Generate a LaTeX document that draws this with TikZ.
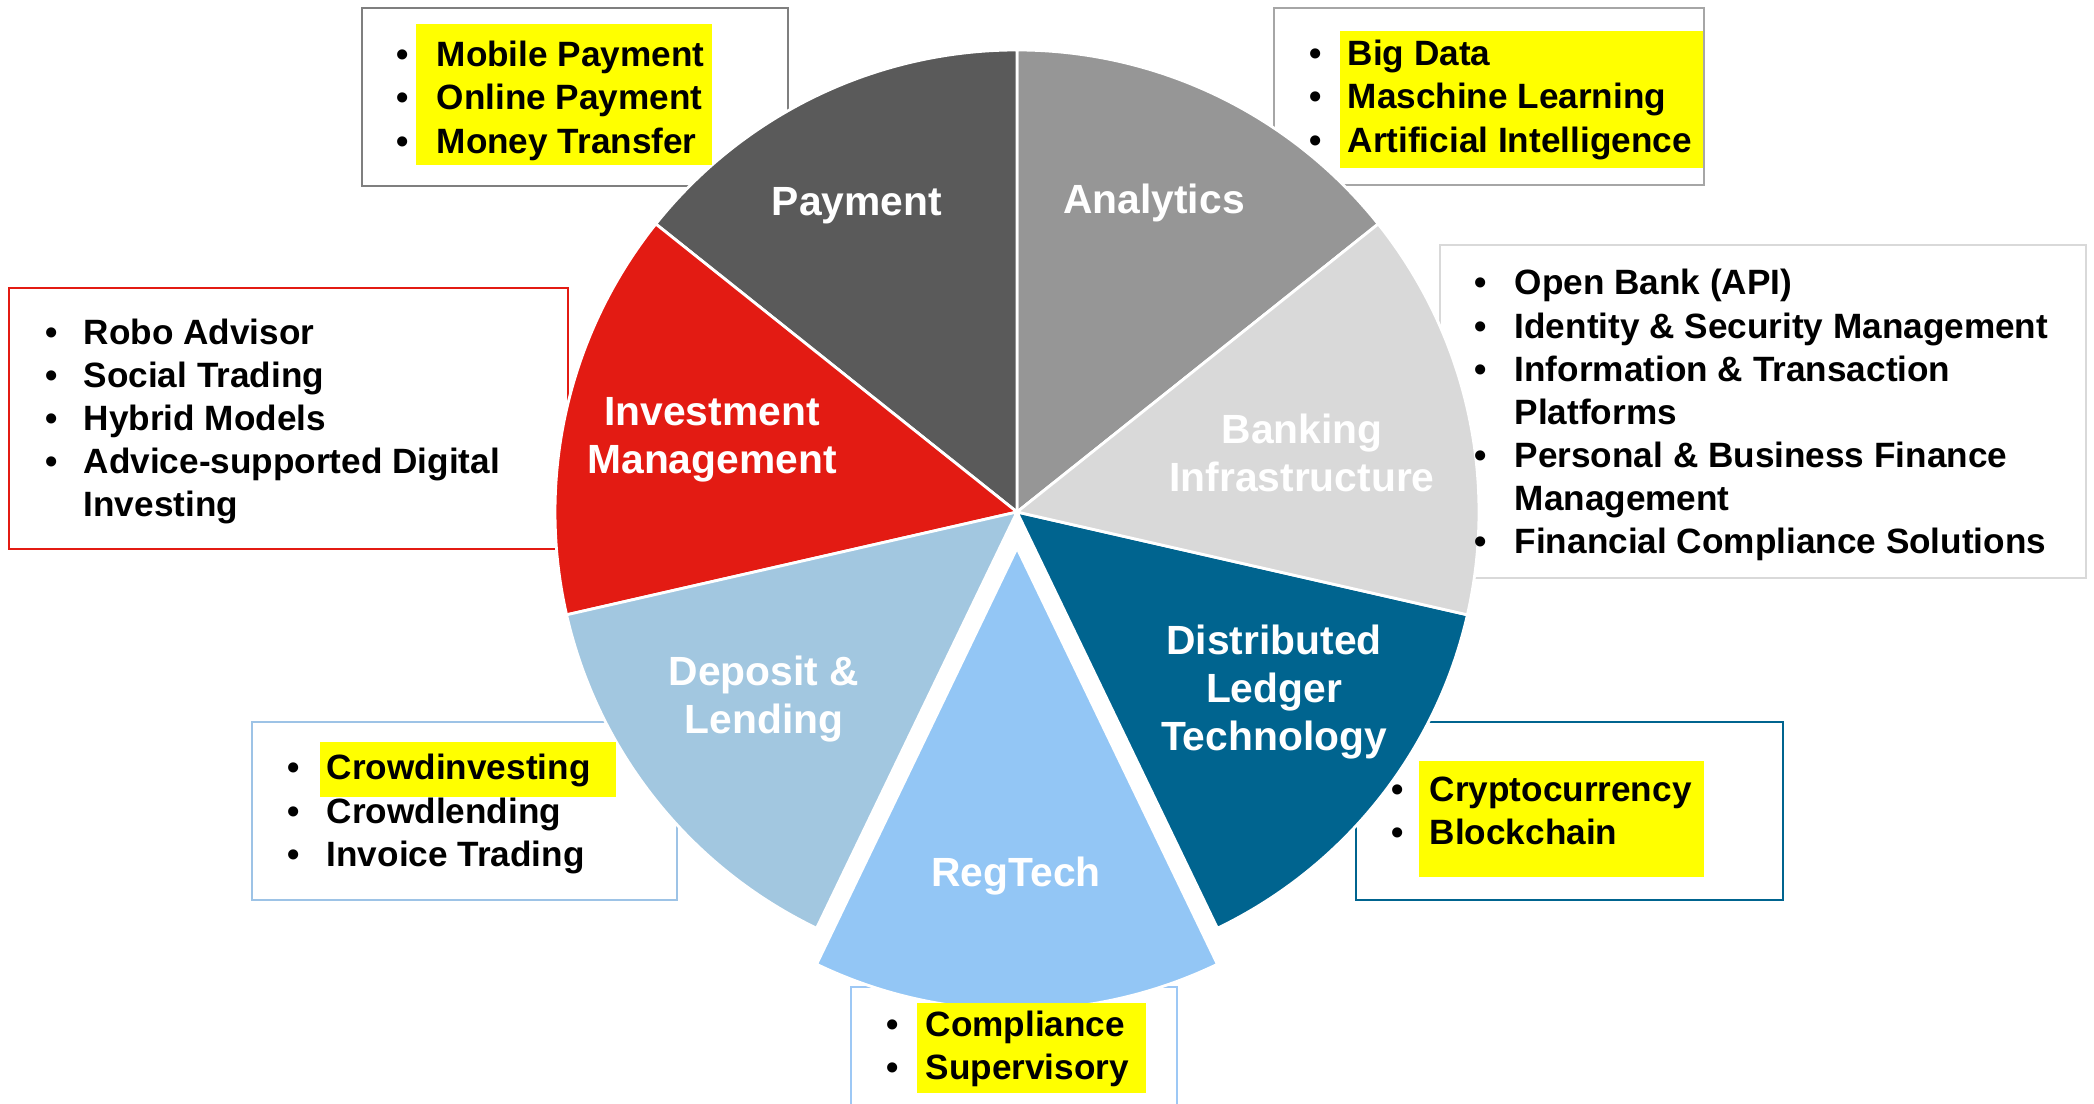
\documentclass[tikz,border=0pt]{standalone}
\usepackage{fontspec}
\setmainfont{Liberation Sans}
\definecolor{payC}{HTML}{5A5A5A}
\definecolor{anaC}{HTML}{969696}
\definecolor{bnkC}{HTML}{D9D9D9}
\definecolor{dltC}{HTML}{00648F}
\definecolor{regC}{HTML}{93C6F5}
\definecolor{depC}{HTML}{A2C7E0}
\definecolor{invC}{HTML}{E31B13}
\definecolor{payB}{HTML}{7F7F7F}
\definecolor{anaB}{HTML}{A6A6A6}
\definecolor{depB}{HTML}{9DC3E6}
\definecolor{regB}{HTML}{9DC8F5}
\definecolor{hiC}{HTML}{FFFF00}
\tikzset{
  item/.style={font=\fontsize{10}{12}\selectfont\bfseries, anchor=base west, inner sep=0pt},
  dot/.style={font=\fontsize{10}{12}\selectfont\bfseries, anchor=base, inner sep=0pt},
  lbl/.style={font=\fontsize{11.6}{13.7}\selectfont\bfseries, text=white, align=center, inner sep=0pt},
  frame/.style={line width=0.6pt},
  hilite/.style={fill=hiC},
  slice/.style={draw=white, line width=0.8pt}
}
\begin{document}
\begin{tikzpicture}[x=0.01cm,y=-0.01cm]
\useasboundingbox (0,0) rectangle (2094,1104);
\clip (0,0) rectangle (2094,1104);
% frames of the lists
\draw[frame, draw=payB] (362,8) rectangle (788,186);
\draw[frame, draw=anaB] (1274,8) rectangle (1704,185);
\draw[frame, draw=bnkC] (1440,245) rectangle (2086,578);
\draw[frame, draw=invC] (9,288) rectangle (568,549);
\draw[frame, draw=depB] (252,722) rectangle (677,900);
\draw[frame, draw=dltC] (1356,722) rectangle (1783,900);
\draw[frame, draw=regB] (851,987) rectangle (1177,1130);
% pie
\begin{scope}[shift={(1017,512)}, y=0.01cm]
  \filldraw[slice, fill=anaC] (0,0) -- (38.57:462) arc[start angle=38.57, end angle=90, radius=462] -- cycle;
  \filldraw[slice, fill=payC] (0,0) -- (90:462) arc[start angle=90, end angle=141.43, radius=462] -- cycle;
  \filldraw[slice, fill=invC] (0,0) -- (141.43:462) arc[start angle=141.43, end angle=192.86, radius=462] -- cycle;
  \filldraw[slice, fill=depC] (0,0) -- (192.86:462) arc[start angle=192.86, end angle=244.29, radius=462] -- cycle;
  \filldraw[slice, fill=dltC] (0,0) -- (295.71:462) arc[start angle=295.71, end angle=347.14, radius=462] -- cycle;
  \filldraw[slice, fill=bnkC] (0,0) -- (-12.86:462) arc[start angle=-12.86, end angle=38.57, radius=462] -- cycle;
  \filldraw[slice, fill=regC] (0,-36) -- ++(244.29:462) arc[start angle=244.29, end angle=295.71, radius=462] -- cycle;
\end{scope}
% slice labels
\node[lbl] (payment) at (857,206) {Payment};
\node[lbl] (analytics) at (1154,203) {Analytics};
\node[lbl] (banking) at (1302,453) {Banking\\Infrastructure};
\node[lbl] (invest) at (712,440) {Investment\\Management};
\node[lbl] (deposit) at (764,699) {Deposit \&\\Lending};
\node[lbl] (dlt) at (1274,692) {Distributed\\Ledger\\Technology};
\node[lbl] (regtech) at (1016,876) {RegTech};
% highlights
\fill[hilite] (416,24) rectangle (712,165);
\fill[hilite] (1340,31) rectangle (1703,168);
\fill[hilite] (320,742) rectangle (616,797);
\fill[hilite] (1419,761) rectangle (1704,877);
\fill[hilite] (917,1003) rectangle (1146,1093);
% lists
\foreach \t [count=\i] in {Mobile Payment, Online Payment, Money Transfer}{
  \node[dot] (payb\i) at (403,{66.7+43.3*(\i-1)}) {•};
  \node[item] (pay\i) at (436,{66.7+43.3*(\i-1)}) {\t};
}
\foreach \t [count=\i] in {Big Data, Maschine Learning, Artificial Intelligence}{
  \node[dot] (anab\i) at (1316,{65.7+43.3*(\i-1)}) {•};
  \node[item] (ana\i) at (1347,{65.7+43.3*(\i-1)}) {\t};
}
\foreach \t [count=\i] in {{Open Bank (API)}, Identity \& Security Management, Information \& Transaction, Platforms, Personal \& Business Finance, Management, Financial Compliance Solutions}
  \node[item] (bnk\i) at (1514,{295+43.1*(\i-1)}) {\t};
\foreach \i in {1,2,3,5,7}
  \node[dot] (bnkb\i) at (1481,{295+43.1*(\i-1)}) {•};
\foreach \t [count=\i] in {Robo Advisor, Social Trading, Hybrid Models, Advice-supported Digital, Investing}
  \node[item] (inv\i) at (83,{345+43*(\i-1)}) {\t};
\foreach \i in {1,...,4}
  \node[dot] (invb\i) at (52,{345+43*(\i-1)}) {•};
\foreach \t [count=\i] in {Crowdinvesting, Crowdlending, Invoice Trading}{
  \node[dot] (depb\i) at (294,{780+43.3*(\i-1)}) {•};
  \node[item] (dep\i) at (326,{780+43.3*(\i-1)}) {\t};
}
\foreach \t [count=\i] in {Cryptocurrency, Blockchain}{
  \node[dot] (dltb\i) at (1398,{801.7+43.3*(\i-1)}) {•};
  \node[item] (dlt\i) at (1429,{801.7+43.3*(\i-1)}) {\t};
}
\foreach \t [count=\i] in {Compliance, Supervisory}{
  \node[dot] (regb\i) at (893,{1036.7+42.6*(\i-1)}) {•};
  \node[item] (reg\i) at (925,{1036.7+42.6*(\i-1)}) {\t};
}
\end{tikzpicture}
\end{document}
